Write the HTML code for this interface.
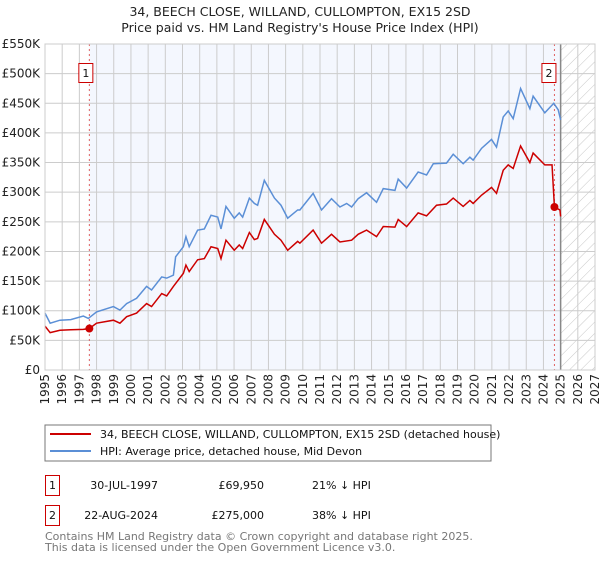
<!DOCTYPE html>
<html><head><meta charset="utf-8"><style>
body{margin:0;background:#fff;}
svg text{font-family:"DejaVu Sans","Liberation Sans",sans-serif;}
</style></head><body>
<svg width="600" height="560" xmlns="http://www.w3.org/2000/svg">
<text x="300" y="16" text-anchor="middle" font-size="12.5" fill="#222">34, BEECH CLOSE, WILLAND, CULLOMPTON, EX15 2SD</text>
<text x="300" y="32" text-anchor="middle" font-size="12.5" fill="#222">Price paid vs. HM Land Registry's House Price Index (HPI)</text>
<g id="plot"></g>
<rect x="45" y="425" width="446" height="36" fill="#fff" stroke="#777"/>
<line x1="50" y1="434" x2="91" y2="434" stroke="#cc0000" stroke-width="2"/>
<text x="100" y="438" font-size="11" fill="#111">34, BEECH CLOSE, WILLAND, CULLOMPTON, EX15 2SD (detached house)</text>
<line x1="50" y1="451" x2="91" y2="451" stroke="#5b8fd6" stroke-width="2"/>
<text x="100" y="455" font-size="11" fill="#111">HPI: Average price, detached house, Mid Devon</text>
<g>
<rect x="45.5" y="475.5" width="14" height="20" fill="#fff" stroke="#cc0000"/>
<text x="52.5" y="489" text-anchor="middle" font-size="11" fill="#111">1</text>
<text x="158" y="489" text-anchor="end" font-size="11" fill="#111">30-JUL-1997</text>
<text x="264" y="489" text-anchor="end" font-size="11" fill="#111">£69,950</text>
<text x="312" y="489" font-size="11" fill="#111">21% ↓ HPI</text>
</g>
<g>
<rect x="45.5" y="505.5" width="14" height="20" fill="#fff" stroke="#cc0000"/>
<text x="52.5" y="519" text-anchor="middle" font-size="11" fill="#111">2</text>
<text x="158" y="519" text-anchor="end" font-size="11" fill="#111">22-AUG-2024</text>
<text x="264" y="519" text-anchor="end" font-size="11" fill="#111">£275,000</text>
<text x="312" y="519" font-size="11" fill="#111">38% ↓ HPI</text>
</g>
<text x="45" y="540" font-size="11" fill="#777">Contains HM Land Registry data © Crown copyright and database right 2025.</text>
<text x="45" y="551" font-size="11" fill="#777">This data is licensed under the Open Government Licence v3.0.</text>
</svg>
<script>
const yTicks=[0,50,100,150,200,250,300,350,400,450,500,550];
const yTickLabels=["£0","£50K","£100K","£150K","£200K","£250K","£300K","£350K","£400K","£450K","£500K","£550K"];
const xTicks=[1995,1996,1997,1998,1999,2000,2001,2002,2003,2004,2005,2006,2007,2008,2009,2010,2011,2012,2013,2014,2015,2016,2017,2018,2019,2020,2021,2022,2023,2024,2025,2026,2027];
const hpiYears=[1995.0,1995.3,1995.87,1996.5,1997.23,1997.52,1998.0,1998.98,1999.36,1999.75,2000.33,2000.91,2001.2,2001.79,2002.08,2002.47,2002.6,2003.05,2003.2,2003.39,2003.88,2004.27,2004.66,2005.05,2005.24,2005.53,2006.01,2006.3,2006.5,2006.89,2007.18,2007.37,2007.76,2008.35,2008.73,2009.12,2009.7,2009.83,2010.6,2011.09,2011.67,2012.16,2012.55,2012.84,2013.22,2013.71,2014.29,2014.68,2015.36,2015.55,2016.04,2016.71,2017.2,2017.59,2018.36,2018.75,2019.33,2019.72,2019.91,2020.4,2020.98,2021.27,2021.66,2021.95,2022.24,2022.67,2023.21,2023.4,2024.08,2024.6,2024.86,2025.0];
const hpiValues=[96,79,84,85,91,87,98,107,101,112,121,141,135,157,155,160,191,208,225,208,236,238,261,258,238,276,256,265,258,290,281,278,320,290,278,256,270,270,298,270,289,275,281,275,289,299,283,306,303,322,307,334,329,348,349,364,348,359,354,374,389,376,427,437,424,475,441,462,434,450,439,422];
const ppYears=[1995.0,1995.3,1995.87,1996.5,1997.23,1997.58,1998.0,1998.98,1999.36,1999.75,2000.33,2000.91,2001.2,2001.79,2002.08,2002.47,2003.05,2003.2,2003.39,2003.88,2004.27,2004.66,2005.05,2005.24,2005.53,2006.01,2006.3,2006.5,2006.89,2007.18,2007.37,2007.76,2008.35,2008.73,2009.12,2009.7,2009.83,2010.6,2011.09,2011.67,2012.16,2012.84,2013.22,2013.71,2014.29,2014.68,2015.36,2015.55,2016.04,2016.71,2017.2,2017.78,2018.36,2018.75,2019.33,2019.72,2019.91,2020.4,2020.98,2021.27,2021.66,2021.95,2022.24,2022.67,2023.21,2023.4,2024.08,2024.5,2024.64,2024.96,2025.0];
const ppValues=[74,63,67,68,68.5,69.95,79,84,79,90,96,112,107,129,125,141,163,177,166,186,188,208,205,188,219,202,211,205,232,220,222,254,229,219,202,217,214,236,214,229,216,219,229,236,225,242,241,254,242,265,260,278,280,290,276,286,281,295,308,298,337,346,340,378,350,366,346,346,275,270,259];
const saleYears=[1997.58,2024.64];
const saleValues=[69.95,275];
const saleLabels=["1","2"];

const NS="http://www.w3.org/2000/svg";
const X0=45,X1=595,Y0=370,Y1=44;
const xs=y=>X0+(y-1995)/(2027-1995)*(X1-X0);
const ys=v=>Y0-v/550*(Y0-Y1);
const g=document.getElementById('plot');
function mk(t,a){const e=document.createElementNS(NS,t);for(const k in a)e.setAttribute(k,a[k]);g.appendChild(e);return e;}

const bg=mk('rect',{x:xs(1997.58),y:Y1,width:xs(2025)-xs(1997.58),height:Y0-Y1,fill:'#f4f7fe'});


const defs=document.createElementNS(NS,'defs');
defs.innerHTML='<pattern id="hatch" width="8" height="8" patternUnits="userSpaceOnUse" patternTransform="rotate(45)"><line x1="0" y1="0" x2="0" y2="8" stroke="#c8c8c8" stroke-width="1"/></pattern>';
g.appendChild(defs);
const ht=mk('rect',{x:xs(2025),y:Y1,width:X1-xs(2025),height:Y0-Y1,fill:'url(#hatch)'});



xTicks.forEach((t,i)=>{
  const l=mk('line',{x1:xs(t),x2:xs(t),y1:Y1,y2:Y0,stroke:'#cccccc','stroke-width':1});
  
  
  const tx=mk('text',{x:0,y:0,'font-size':12,fill:'#222','text-anchor':'end',transform:`translate(${xs(t)+4},${Y0+4}) rotate(-90)`});
  tx.textContent=t;
  
  
});
yTicks.forEach((t,i)=>{
  const l=mk('line',{x1:X0,x2:X1,y1:ys(t),y2:ys(t),stroke:'#cccccc','stroke-width':1});
  
  
  const tx=mk('text',{x:40,y:ys(t)+4,'font-size':12,fill:'#222','text-anchor':'end'});
  tx.textContent=yTickLabels[i];
  
  
});
const cur=mk('line',{x1:xs(2025),x2:xs(2025),y1:Y1,y2:Y0,stroke:'#888','stroke-width':1.5});



saleYears.forEach((s,i)=>{
  const l=mk('line',{x1:xs(s),x2:xs(s),y1:Y1,y2:Y0,stroke:'#e06060','stroke-width':1,'stroke-dasharray':'2,3'});
  
  
});

const hp=mk('polyline',{points:hpiYears.map((y,i)=>xs(y)+','+ys(hpiValues[i])).join(' '),fill:'none',stroke:'#5b8fd6','stroke-width':1.5});


const pp=mk('polyline',{points:ppYears.map((y,i)=>xs(y)+','+ys(ppValues[i])).join(' '),fill:'none',stroke:'#cc0000','stroke-width':1.5});



saleYears.forEach((s,i)=>{
  const c=mk('circle',{cx:xs(s),cy:ys(saleValues[i]),r:4,fill:'#cc0000'});
  
  
  const bx=xs(s)-7;
  const r=mk('rect',{x:bx-0.5-(i==0?3:5),y:63.5,width:14,height:19,fill:'#fff',stroke:'#cc0000'});
  
  
  const t=mk('text',{x:bx+6.5-(i==0?3:5),y:77,'font-size':11,fill:'#111','text-anchor':'middle'});
  t.textContent=saleLabels[i];
  
  
});
const fr=mk('rect',{x:X0,y:Y1,width:X1-X0,height:Y0-Y1,fill:'none',stroke:'#cccccc'});


</script>
</body></html>
